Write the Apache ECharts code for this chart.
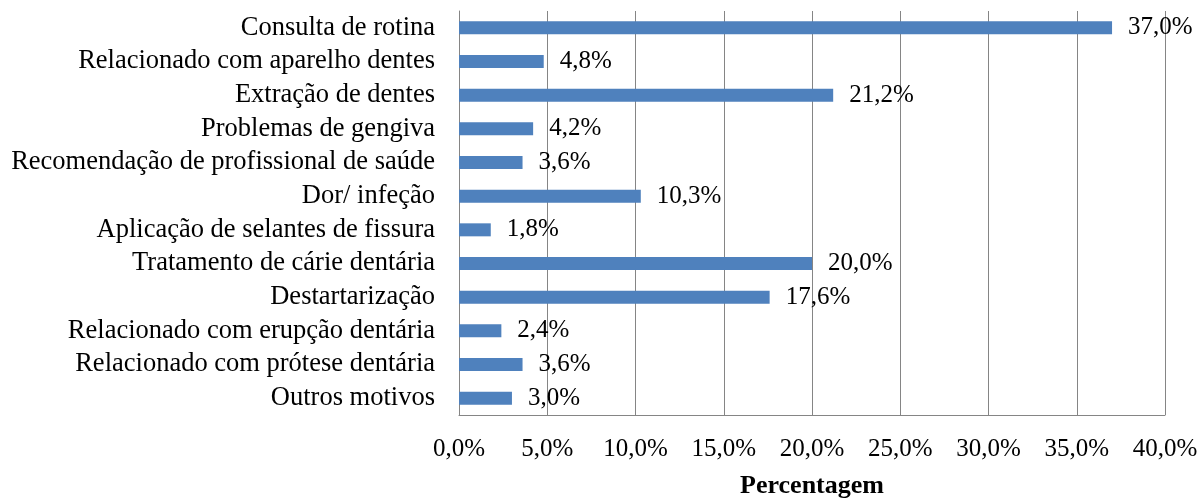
<!DOCTYPE html>
<html lang="pt">
<head>
    <meta charset="UTF-8">
    <title>Motivos</title>
    <style>
        html, body { margin: 0; padding: 0; background: #fff; }
        #main { width: 1203px; height: 498px; }
    </style>
    <script src="https://cdn.jsdelivr.net/npm/echarts@6/dist/echarts.min.js"></script>
</head>
<body>

<div id="main"></div>

<script>
    // categorias, de cima para baixo
    var categorias = [
        'Consulta de rotina',
        'Relacionado com aparelho dentes',
        'Extração de dentes',
        'Problemas de gengiva',
        'Recomendação de profissional de saúde',
        'Dor/ infeção',
        'Aplicação de selantes de fissura',
        'Tratamento de cárie dentária',
        'Destartarização',
        'Relacionado com erupção dentária',
        'Relacionado com prótese dentária',
        'Outros motivos'
    ];
    var percentagens = [37.0, 4.8, 21.2, 4.2, 3.6, 10.3, 1.8, 20.0, 17.6, 2.4, 3.6, 3.0];

    var eixoMin = 0, eixoMax = 40, eixoPasso = 5;

    var fonte = "'Liberation Serif', 'Times New Roman', serif";
    var cinza = '#858585';

    function pct(v) {
        return v.toFixed(1).replace('.', ',') + '%';
    }

    var myChart = echarts.init(document.getElementById('main'));

    var option = {
        animation: false,
        textStyle: { fontFamily: fonte, color: '#000' },
        grid: { left: 459, right: 38, top: 11, bottom: 83, outerBoundsMode: 'none' },
        xAxis: {
            type: 'value',
            min: eixoMin,
            max: eixoMax,
            interval: eixoPasso,
            name: 'Percentagem',
            nameLocation: 'middle',
            nameGap: 58,
            nameTextStyle: { fontFamily: fonte, fontSize: 26, fontWeight: 'bold', color: '#000' },
            axisLine: { show: true, lineStyle: { color: cinza, width: 1 } },
            axisTick: { show: false },
            axisLabel: {
                margin: 22,
                fontFamily: fonte, fontSize: 25, color: '#000',
                formatter: function (v) { return pct(v); }
            },
            splitLine: { show: true, lineStyle: { color: cinza, width: 1 } }
        },
        yAxis: {
            type: 'category',
            inverse: true,
            data: categorias,
            axisLine: { show: true, lineStyle: { color: cinza, width: 1 } },
            axisTick: { show: false },
            axisLabel: { interval: 0, margin: 24, fontFamily: fonte, fontSize: 26.5, color: '#000' }
        },
        series: [{
            type: 'bar',
            data: percentagens,
            barWidth: 13,
            itemStyle: { color: '#4F81BD' },
            label: {
                show: true,
                position: 'right',
                distance: 16,
                fontFamily: fonte,
                fontSize: 25,
                color: '#000',
                formatter: function (p) { return pct(p.value); }
            }
        }]
    };

    myChart.setOption(option);
</script>

</body>
</html>
